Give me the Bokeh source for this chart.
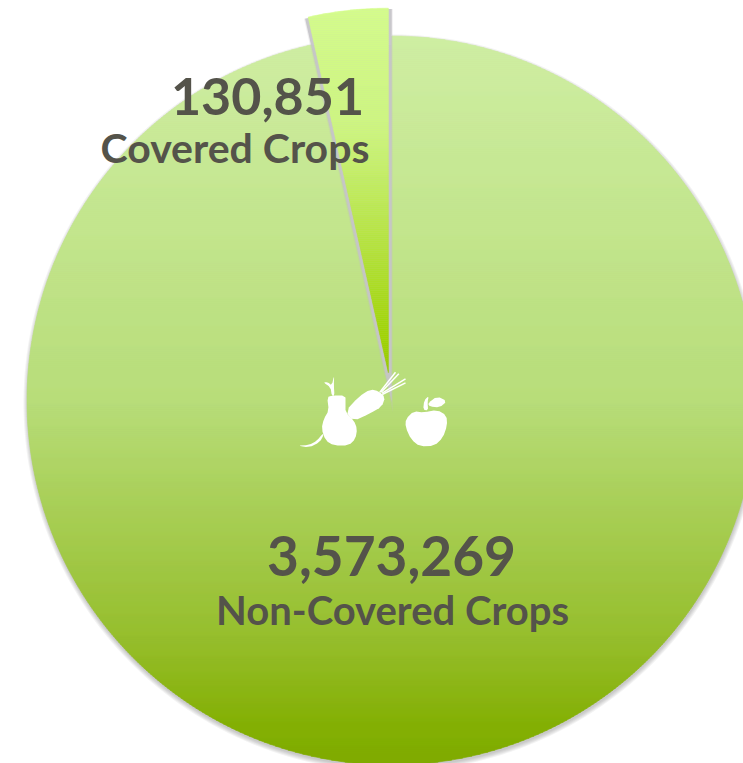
import numpy as np
from bokeh.plotting import figure
from bokeh.models import Range1d, ColumnDataSource
from bokeh.core.properties import value
from bokeh.embed import file_html
from bokeh.resources import INLINE

categories = ["Covered Crops", "Non-Covered Crops"]
values = [130851, 3573269]
labels = ["130,851", "3,573,269"]

CX, CY, R, EXPLODE = 391.0, 400.0, 364.5, 28.0
TEXT = "#54534A"
FONT = "Lato"

main_stops = [(37, (207, 238, 163)), (400, (184, 221, 122)), (640, (150, 190, 44)), (725, (132, 176, 4)), (765, (127, 171, 0))]
slice_stops = [(8, (212, 252, 140)), (130, (205, 245, 127)), (250, (180, 226, 60)), (340, (160, 212, 4)), (375, (150, 200, 0))]

def wedge(cx, cy, r, a0, a1, n=240):
    t = np.linspace(a0, a1, n)
    xs = np.r_[cx, cx + r * np.sin(t)]
    ys = np.r_[cy, cy - r * np.cos(t)]
    return xs, ys

def clip(xs, ys, y, keep_above):
    ox, oy = [], []
    n = len(xs)
    for i in range(n):
        x0, y0, x1, y1 = xs[i], ys[i], xs[(i + 1) % n], ys[(i + 1) % n]
        in0 = y0 <= y if keep_above else y0 >= y
        in1 = y1 <= y if keep_above else y1 >= y
        if in0:
            ox.append(x0); oy.append(y0)
        if in0 != in1:
            f = (y - y0) / (y1 - y0)
            ox.append(x0 + f * (x1 - x0)); oy.append(y)
    return ox, oy

def bands(xs, ys, stops, step=2.0):
    sy = [s[0] for s in stops]
    cs = np.array([s[1] for s in stops], float)
    bx, by, col = [], [], []
    for y0 in np.arange(ys.min(), ys.max(), step):
        y1 = y0 + step
        ax, ay = clip(list(xs), list(ys), y1, True)
        if len(ax) < 3:
            continue
        ax, ay = clip(ax, ay, y0, False)
        if len(ax) < 3:
            continue
        m = (y0 + y1) / 2
        rgb = [int(round(np.interp(m, sy, cs[:, k]))) for k in range(3)]
        bx.append(ax); by.append(ay); col.append("#%02x%02x%02x" % tuple(rgb))
    return dict(xs=bx, ys=by, c=col)

total = sum(values)
sweep = 2 * np.pi * values[0] / total
mid = -sweep / 2
dx, dy = EXPLODE * np.sin(mid), -EXPLODE * np.cos(mid)

p = figure(width=743, height=763, x_range=Range1d(0, 743), y_range=Range1d(763, 0),
           output_backend="svg", toolbar_location=None, min_border=0,
           outline_line_color=None, background_fill_color="white")
p.axis.visible = False
p.grid.visible = False

for k in (5, 4, 3, 2, 1):
    sx, sy_ = wedge(CX + 0.5, CY + 2.5, R + k - 1, 0, 2 * np.pi - sweep)
    p.patch(sx, sy_, fill_color="#555555", fill_alpha=0.07, line_color=None)

mx, my = wedge(CX, CY, R, 0, 2 * np.pi - sweep, 480)
d = bands(mx, my, main_stops)
p.patches("xs", "ys", source=ColumnDataSource(d), fill_color="c", line_color="c", line_width=0.6)

for k, a in ((40, 0.25), (30, 0.85)):
    tx = CX + dx + k * np.sin(mid + np.pi)
    ty = CY + dy - k * np.cos(mid + np.pi)
    sx, sy_ = wedge(tx, ty, R + k - 1, -sweep, 0, 40)
    p.patch(sx, sy_, fill_color="#C2C1C5", fill_alpha=a, line_color=None)

sx, sy_ = wedge(CX + dx, CY + dy, R, -sweep, 0, 60)
d2 = bands(sx, sy_, slice_stops)
p.patches("xs", "ys", source=ColumnDataSource(d2), fill_color="c", line_color="c", line_width=0.5)

pear = [(110,140),(125,135),(165,135),(165,160),(165,185),(190,210),(200,235),(195,265),(175,285),(130,285),(105,270),(93,235),(100,205),(115,180)]
tail = [(100,252),(88,275),(55,291),(20,285),(55,284),(80,270),(96,250)]
stem = [(124,136),(120,110),(98,95),(112,95),(124,105),(131,73),(130,105),(132,136)]
carrot = [(165,182),(205,138),(240,116),(265,122),(284,140),(274,168),(240,188),(188,212)]
apple = [(346,205),(370,182),(400,186),(440,178),(468,195),(470,225),(457,262),(432,286),(388,288),(362,267),(345,230)]
leaf = [(412,158),(440,137),(470,152),(447,171),(418,168)]
astem = [(398,178),(401,150),(415,136),(411,155),(413,180)]
greens = [[(268,125),(315,65)], [(272,125),(325,70)], [(275,128),(345,85)], [(275,132),(345,97)]]

def smooth(pts, it=3):
    a = np.array(pts, float)
    for _ in range(it):
        b = np.roll(a, -1, axis=0)
        a = np.stack([0.75 * a + 0.25 * b, 0.25 * a + 0.75 * b], 1).reshape(-1, 2)
    return 290 + a[:, 0] / 3, 350 + a[:, 1] / 3

for shape, it in ((pear, 1), (tail, 1), (stem, 1), (carrot, 1), (apple, 1), (leaf, 1), (astem, 1)):
    x, y = smooth(shape, it)
    p.patch(x, y, fill_color="white", line_color=None)
for g in greens:
    a = np.array(g, float)
    p.line(290 + a[:, 0] / 3, 350 + a[:, 1] / 3, line_color="white", line_width=1.5)

p.text([267], [96], text=[labels[0]], text_font=value(FONT), text_font_style="bold", text_font_size="52px",
       text_color=TEXT, text_align="center", text_baseline="alphabetic")
p.text([234.5], [147], text=[categories[0]], text_font=value(FONT), text_font_style="bold", text_font_size="41px",
       text_color=TEXT, text_align="center", text_baseline="alphabetic")
p.text([391], [555], text=[labels[1]], text_font=value(FONT), text_font_style="bold", text_font_size="55px",
       text_color=TEXT, text_align="center", text_baseline="alphabetic")
p.text([392], [609], text=[categories[1]], text_font=value(FONT), text_font_style="bold", text_font_size="40px",
       text_color=TEXT, text_align="center", text_baseline="alphabetic")

open("out.html", "w").write(file_html(p, INLINE))
